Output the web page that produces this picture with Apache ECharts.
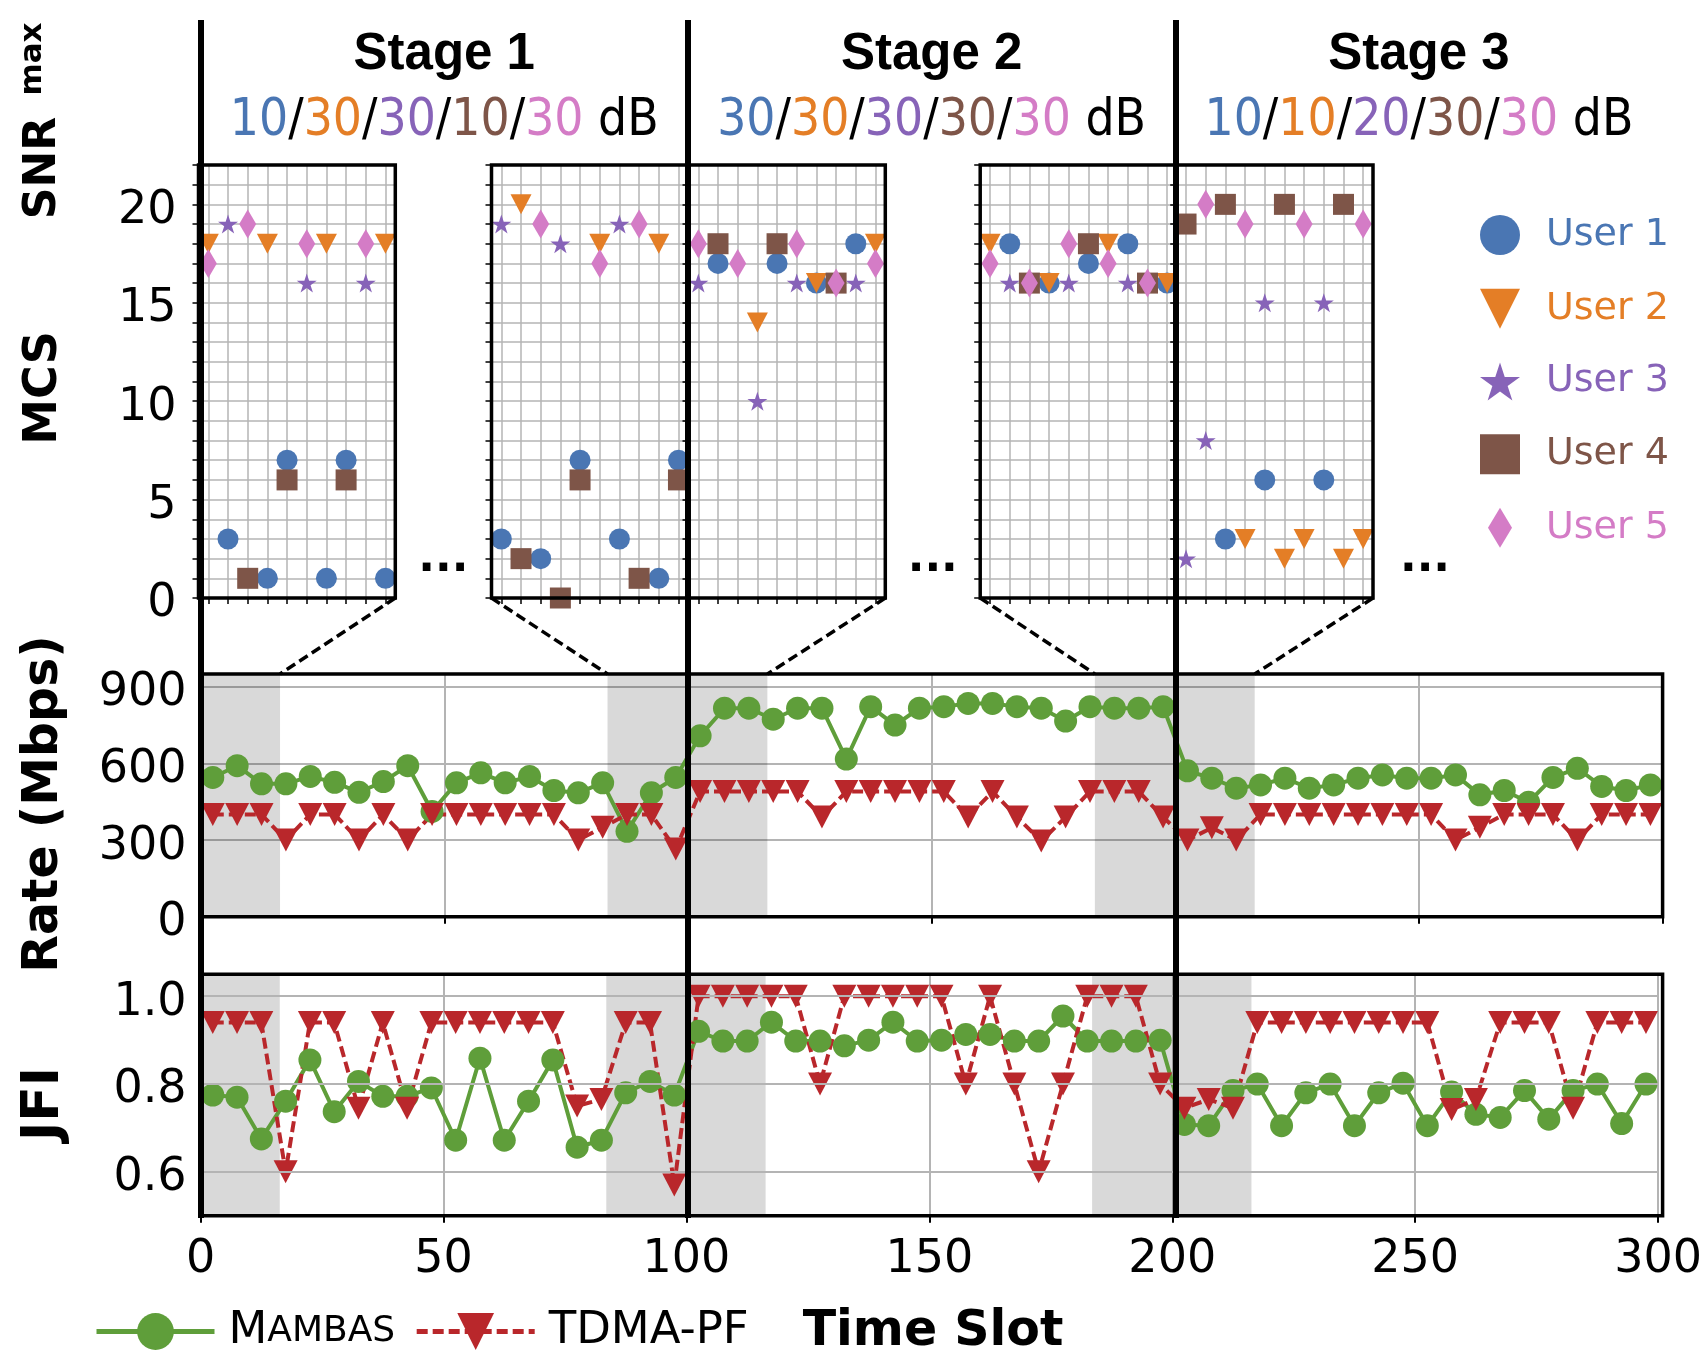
<!DOCTYPE html>
<html><head><meta charset="utf-8">
<script src="https://cdn.jsdelivr.net/npm/echarts@6/dist/echarts.min.js"></script>
<style>html,body{margin:0;padding:0;background:#fff}#c{width:1705px;height:1370px}</style>
</head><body><div id="c"></div>
<script>
// ---------------- data ----------------
const slots = [2.5,7.5,12.5,17.5,22.5,27.5,32.5,37.5,42.5,47.5,52.5,57.5,62.5,67.5,72.5,77.5,82.5,87.5,92.5,97.5,
  102.5,107.5,112.5,117.5,122.5,127.5,132.5,137.5,142.5,147.5,152.5,157.5,162.5,167.5,172.5,177.5,182.5,187.5,192.5,197.5,
  202.5,207.5,212.5,217.5,222.5,227.5,232.5,237.5,242.5,247.5,252.5,257.5,262.5,267.5,272.5,277.5,282.5,287.5,292.5,297.5];
const mambasRate = [545,591,520,520,549,526,487,529,591,412,524,563,524,549,494,485,524,334,485,545,
  708,816,816,773,816,816,617,822,750,816,822,835,835,822,816,766,822,816,816,822,
  571,542,503,516,542,503,516,542,555,542,542,555,477,494,448,545,581,510,494,516];
const tdmaRate = [400,400,400,300,400,400,300,400,300,400,400,400,400,400,400,300,350,400,400,265,
  490,490,490,490,490,390,490,490,490,490,490,390,490,390,296,390,490,490,490,390,
  300,348,300,400,400,400,400,400,400,400,400,300,350,400,400,400,300,400,400,400];
const mambasJFI = [0.775,0.770,0.675,0.761,0.855,0.737,0.806,0.772,0.772,0.791,0.672,0.859,0.672,0.761,0.855,0.656,0.672,0.780,0.806,0.775,
  0.920,0.898,0.898,0.941,0.898,0.898,0.887,0.900,0.941,0.898,0.900,0.913,0.913,0.898,0.898,0.955,0.898,0.898,0.898,0.900,
  0.708,0.705,0.785,0.800,0.705,0.780,0.800,0.705,0.780,0.802,0.705,0.782,0.731,0.724,0.785,0.720,0.785,0.800,0.710,0.800];
const tdmaJFI = [0.94,0.94,0.94,0.60,0.94,0.94,0.745,0.94,0.745,0.94,0.94,0.94,0.94,0.94,0.94,0.75,0.765,0.94,0.94,0.57,
  1.0,1.0,1.0,1.0,1.0,0.8,1.0,1.0,1.0,1.0,1.0,0.8,1.0,0.8,0.6,0.8,1.0,1.0,1.0,0.8,
  0.745,0.765,0.745,0.94,0.94,0.94,0.94,0.94,0.94,0.94,0.94,0.742,0.765,0.94,0.94,0.94,0.745,0.94,0.94,0.94];
const rateTicks = [0,300,600,900];
const jfiTicks = [0.6,0.8,1.0];
const xTicks = [0,50,100,150,200,250,300];
const stageBounds = [0,100,200];
const shadeSpans = [[0,16.3],[83.5,100],[100,116.3],[183.5,200],[200,216.3]];
const stageNames = ['Stage 1','Stage 2','Stage 3'];
const stageSNR = [[10,30,30,10,30],[30,30,30,30,30],[10,10,20,30,30]];
const users = ['User 1','User 2','User 3','User 4','User 5'];
const insetSlots = ['1','2','3','4','5','6','7','8','9','10'];
const mcsTicks = [0,5,10,15,20];
// MCS per inset, per user (null = not scheduled)
const inset1 = [
  [null,3,null,1,7,null,1,7,null,1],
  [18,null,null,18,null,null,18,null,null,18],
  [null,19,null,null,null,16,null,null,16,null],
  [null,null,1,null,6,null,null,6,null,null],
  [17,null,19,null,null,18,null,null,18,null]];
const inset2 = [
  [3,null,2,null,7,null,3,null,1,7],
  [null,20,null,null,null,18,null,null,18,null],
  [19,null,null,18,null,null,19,null,null,null],
  [null,2,null,0,6,null,null,1,null,6],
  [null,null,19,null,null,17,null,19,null,null]];
const inset3 = [
  [null,17,null,null,17,null,16,null,18,null],
  [null,null,null,14,null,null,16,null,null,18],
  [16,null,null,10,null,16,null,null,16,null],
  [null,18,null,null,18,null,null,16,null,null],
  [18,null,17,null,null,18,null,16,null,17]];
const inset4 = [
  [null,18,null,16,null,17,null,18,null,16],
  [18,null,null,16,null,null,18,null,null,16],
  [null,16,null,null,16,null,null,16,null,null],
  [null,null,16,null,null,18,null,null,16,null],
  [17,null,16,null,18,null,17,null,16,null]];
const inset5 = [
  [null,null,3,null,6,null,null,6,null,null],
  [null,null,null,3,null,2,3,null,2,3],
  [2,8,null,null,15,null,null,15,null,null],
  [19,null,20,null,null,20,null,null,20,null],
  [null,20,null,19,null,null,19,null,null,19]];
const insets = [inset1,inset2,inset3,inset4,inset5];

// ---------------- styles / layout ----------------
const FONT = "'DejaVu Sans', sans-serif";
const NARROW = "'DejaVu Sans Condensed', 'Liberation Sans Narrow', 'DejaVu Sans', sans-serif";
const userColors = ['#4a76b3','#e47e26','#8763b8','#7e5548','#d47cc6'];
const GREEN = '#5f9e3a', RED = '#b9272b', GRIDC = '#b4b4b4';
function starPath(){ let s='path://'; for(let i=0;i<10;i++){const r=i%2?0.382:1; const a=-Math.PI/2+i*Math.PI/5; s+=(i?'L':'M')+(r*Math.cos(a)).toFixed(3)+','+(r*Math.sin(a)).toFixed(3);} return s+'Z'; }
const TRI_DOWN = 'path://M0,0L2,0L1,2Z';
const DIAM = 'path://M0.6,0L1.2,1L0.6,2L0,1Z';
const userSymbols = ['circle', TRI_DOWN, starPath(), 'rect', 'diamond'];
const userSizes = [21,[21,20],[20,19],21,[17,29]];
const legendIcons = ['circle', TRI_DOWN, starPath(), 'rect', DIAM];

const insetLefts = [198.5, 491.5, 688.5, 980.2, 1176.2];
const INSET_W = 196.8, INSET_TOP = 165, INSET_H = 433;
const MAIN_L = 200.6, MAIN_W = 1462;
const RATE_TOP = 674, RATE_H = 242.7, JFI_TOP = 974.3, JFI_H = 241.4;

const grids = insetLefts.map(l => ({left:l, top:INSET_TOP, width:INSET_W, height:INSET_H, show:true, borderWidth:0, backgroundColor:'#fff'}));
grids.push({left:MAIN_L, top:RATE_TOP, width:MAIN_W, height:RATE_H, show:false});
grids.push({left:MAIN_L, top:JFI_TOP, width:MAIN_W, height:JFI_H, show:false});
grids.push({left:MAIN_L, top:20, width:MAIN_W, height:1198, show:false});

// tick label text style (pushed slightly down, like the reference)
const tickRich = {p:{fontSize:46, fontFamily:FONT, color:'#000', padding:[13,0,0,0]}};
const xAxes = insetLefts.map((_,i)=>({gridIndex:i, type:'category', data:insetSlots, boundaryGap:true,
  axisLine:{show:false}, axisLabel:{show:false},
  axisTick:{show:true, alignWithLabel:true, length:6, lineStyle:{color:'#000', width:1.5}},
  splitLine:{show:true, alignWithLabel:true, lineStyle:{color:GRIDC, width:1.5}}}));
xAxes.push({gridIndex:5, type:'value', min:0, max:300, interval:50, axisLine:{show:false}, axisLabel:{show:false},
  axisTick:{show:true, length:7, lineStyle:{color:'#000', width:2}}, splitLine:{show:true, lineStyle:{color:GRIDC, width:2}}});
xAxes.push({gridIndex:6, type:'value', min:0, max:300, interval:50, axisLine:{show:false},
  axisLabel:{show:true, margin:21, fontSize:46, fontFamily:FONT, color:'#000', formatter:v=> xTicks.includes(v)? String(v):''},
  axisTick:{show:true, length:7, lineStyle:{color:'#000', width:2}}, splitLine:{show:true, lineStyle:{color:GRIDC, width:2}}});
xAxes.push({gridIndex:7, type:'value', min:0, max:300, show:false});

const yAxes = insetLefts.map((_,i)=>({gridIndex:i, type:'value', min:0, max:22, interval:1,
  axisLine:{show:false},
  axisTick:{show:true, length:6, lineStyle:{color:'#000', width:1.5}},
  axisLabel:{show:i===0, margin:22, rich:tickRich, fontSize:46, fontFamily:FONT, color:'#000', formatter:v=> mcsTicks.includes(v)? '{p|'+v+'}':''},
  splitLine:{show:true, lineStyle:{color:GRIDC, width:1.5}}}));
yAxes.push({gridIndex:5, type:'value', min:0, max:950, interval:300, axisLine:{show:false},
  axisTick:{show:false},
  axisLabel:{margin:14, rich:tickRich, fontSize:46, fontFamily:FONT, color:'#000', formatter:v=> rateTicks.includes(v)? '{p|'+v+'}':''},
  splitLine:{show:true, lineStyle:{color:GRIDC, width:2}}});
yAxes.push({gridIndex:6, type:'value', min:0.5, max:1.05, interval:0.1, axisLine:{show:false},
  axisTick:{show:false},
  axisLabel:{margin:14, rich:tickRich, fontSize:46, fontFamily:FONT, color:'#000', formatter:v=>{const r=Math.round(v*10)/10; return jfiTicks.includes(r) && Math.abs(v-r)<1e-6 ? '{p|'+r.toFixed(1)+'}' : '';}},
  splitLine:{show:false}});
yAxes.push({gridIndex:7, type:'value', min:0, max:1, show:false});

const series = [];
insets.forEach((inset, gi) => {
  inset.forEach((vals, u) => {
    series.push({type:'scatter', name:users[u], xAxisIndex:gi, yAxisIndex:gi,
      symbol:userSymbols[u], symbolSize:userSizes[u], itemStyle:{color:userColors[u], opacity:1},
      data: vals.map((v,j)=> v===null? null : [insetSlots[j], v]).filter(d=>d!==null), z:3});
  });
});
// JFI grid lines
series.push({type:'line', xAxisIndex:6, yAxisIndex:6, data:[], z:1, silent:true,
  markLine:{silent:true, symbol:['none','none'], label:{show:false}, lineStyle:{color:GRIDC, width:2, type:'solid'},
    data: jfiTicks.map(v=>({yAxis:v}))}});
series.push({type:'line', name:'Mambas', xAxisIndex:5, yAxisIndex:5, data:slots.map((x,i)=>[x, mambasRate[i]]),
  symbol:'circle', symbolSize:23, lineStyle:{color:GREEN, width:4}, itemStyle:{color:GREEN}, z:3});
series.push({type:'line', name:'TDMA-PF', xAxisIndex:5, yAxisIndex:5, data:slots.map((x,i)=>[x, tdmaRate[i]]),
  symbol:TRI_DOWN, symbolSize:[24,23], lineStyle:{color:RED, width:4, type:[11,5]}, itemStyle:{color:RED}, z:3});
series.push({type:'line', name:'Mambas', xAxisIndex:6, yAxisIndex:6, data:slots.map((x,i)=>[x, mambasJFI[i]]),
  symbol:'circle', symbolSize:23, lineStyle:{color:GREEN, width:4}, itemStyle:{color:GREEN}, z:3});
series.push({type:'line', name:'TDMA-PF', xAxisIndex:6, yAxisIndex:6, data:slots.map((x,i)=>[x, tdmaJFI[i]]),
  symbol:TRI_DOWN, symbolSize:[24,23], lineStyle:{color:RED, width:4, type:[11,5]}, itemStyle:{color:RED}, z:3});
[5,6].forEach(g => series.push({type:'line', xAxisIndex:g, yAxisIndex:g, data:[], z:5, silent:true,
  markArea:{silent:true, itemStyle:{color:'rgba(0,0,0,0.15)'}, data: shadeSpans.map(s=>[{xAxis:s[0]},{xAxis:s[1]}])}}));
series.push({type:'line', xAxisIndex:7, yAxisIndex:7, data:[], z:10, silent:true,
  markLine:{silent:true, symbol:['none','none'], label:{show:false}, lineStyle:{color:'#000', width:6, type:'solid'},
    data: stageBounds.map(x=>({xAxis:x}))}});

const option = {
  animation:false,
  backgroundColor:'#fff',
  grid:grids, xAxis:xAxes, yAxis:yAxes, series:series,
  legend:[
    {orient:'vertical', left:1475, top:210, itemWidth:40, itemHeight:40, itemGap:33.7, selectedMode:false,
     data: users.map((n,i)=>({name:n, icon:legendIcons[i], itemStyle:{color:userColors[i]}, textStyle:{color:userColors[i]}})),
     textStyle:{fontFamily:FONT, fontSize:38, padding:[0,0,0,21]}},
    {orient:'horizontal', left:89, top:1304, itemWidth:118, itemHeight:46, itemGap:19, selectedMode:false,
     lineStyle:{width:5},
     data:[{name:'Mambas', lineStyle:{width:5, color:GREEN}}, {name:'TDMA-PF', lineStyle:{width:5, color:RED, type:[11,5]}}],
     formatter: n => n==='Mambas' ? '{big|M}{sm|AMBAS}' : '{big|TDMA-PF}',
     textStyle:{fontFamily:FONT, fontSize:45, color:'#000', padding:[0,0,0,9],
       rich:{big:{fontSize:45, fontFamily:FONT, color:'#000'}, sm:{fontSize:36, fontFamily:FONT, color:'#000'}}}}
  ]
};

const chart = echarts.init(document.getElementById('c'), null, {renderer:'canvas'});
chart.setOption(option);

// ---------------- annotations ----------------
const els = [];
// panel frames
const frames = insetLefts.map(l => [l, INSET_TOP, INSET_W, INSET_H]);
frames.push([MAIN_L, RATE_TOP, MAIN_W, RATE_H], [MAIN_L, JFI_TOP, MAIN_W, JFI_H]);
frames.forEach(f => els.push({type:'rect', z:8, shape:{x:f[0], y:f[1], width:f[2], height:f[3]}, style:{fill:'none', stroke:'#000', lineWidth:3.5}}));
// stage titles
stageNames.forEach((nm, s) => {
  const cx = chart.convertToPixel({gridIndex:7}, [(stageBounds[s]+ (s<2? stageBounds[s+1] : 300))/2, 0])[0];
  els.push({type:'text', x:cx, y:55, z:20, style:{text:nm, font:"bold 51px 'Liberation Sans', sans-serif", fill:'#000', align:'center', verticalAlign:'middle'}});
  const rich = {k:{fontFamily:NARROW, fontSize:51, fill:'#000', color:'#000'}};
  let txt = '';
  stageSNR[s].forEach((v,u) => { rich['u'+u] = {fontFamily:NARROW, fontSize:51, fill:userColors[u], color:userColors[u]}; txt += (u? '{k|/}':'') + '{u'+u+'|'+v+'}'; });
  txt += '{k| dB}';
  els.push({type:'text', x:cx, y:122, z:20, style:{text:txt, rich:rich, font:"51px "+NARROW, fill:'#000', align:'center', verticalAlign:'middle'}});
});
// ellipses between insets
[[1,2],[3,4]].forEach(p => {
  const cx = (insetLefts[p[0]-1]+INSET_W + insetLefts[p[0]])/2;
  els.push({type:'text', x:cx, y:582, z:20, style:{text:'...', font:'bold 44px '+FONT, fill:'#000', align:'center', verticalAlign:'bottom'}});
});
els.push({type:'text', x:insetLefts[4]+INSET_W+52, y:582, z:20, style:{text:'...', font:'bold 44px '+FONT, fill:'#000', align:'center', verticalAlign:'bottom'}});
// zoom connectors
const conn = [[0,'r',shadeSpans[0][1]],[1,'l',shadeSpans[1][0]],[2,'r',shadeSpans[2][1]],[3,'l',shadeSpans[3][0]],[4,'r',shadeSpans[4][1]]];
conn.forEach(c => {
  const x1 = c[1]==='r' ? insetLefts[c[0]]+INSET_W : insetLefts[c[0]];
  const y1 = INSET_TOP+INSET_H;
  const p2 = chart.convertToPixel({gridIndex:5}, [c[2], 950]);
  els.push({type:'line', z:6, shape:{x1:x1, y1:y1, x2:p2[0], y2:p2[1]}, style:{stroke:'#000', lineWidth:3.5, lineDash:[10,5]}});
});
// axis titles
const rot = (t, x, y, f) => els.push({type:'text', x:x, y:y, rotation:Math.PI/2, z:20, style:{text:t, font:f, fill:'#000', align:'center', verticalAlign:'middle'}});
rot('SNR', 44, 168, 'bold 44px '+FONT);
rot('max', 33, 59, 'bold 31px '+FONT);
rot('MCS', 44, 388, 'bold 46px '+FONT);
rot('Rate (Mbps)', 44, 804, 'bold 49px '+FONT);
rot('JFI', 44, 1104, 'bold 52px '+FONT);
els.push({type:'text', x:933, y:1332, z:20, style:{text:'Time Slot', font:'bold 49px '+FONT, fill:'#000', align:'center', verticalAlign:'middle'}});

chart.setOption({graphic:{elements:els}});
</script></body></html>
